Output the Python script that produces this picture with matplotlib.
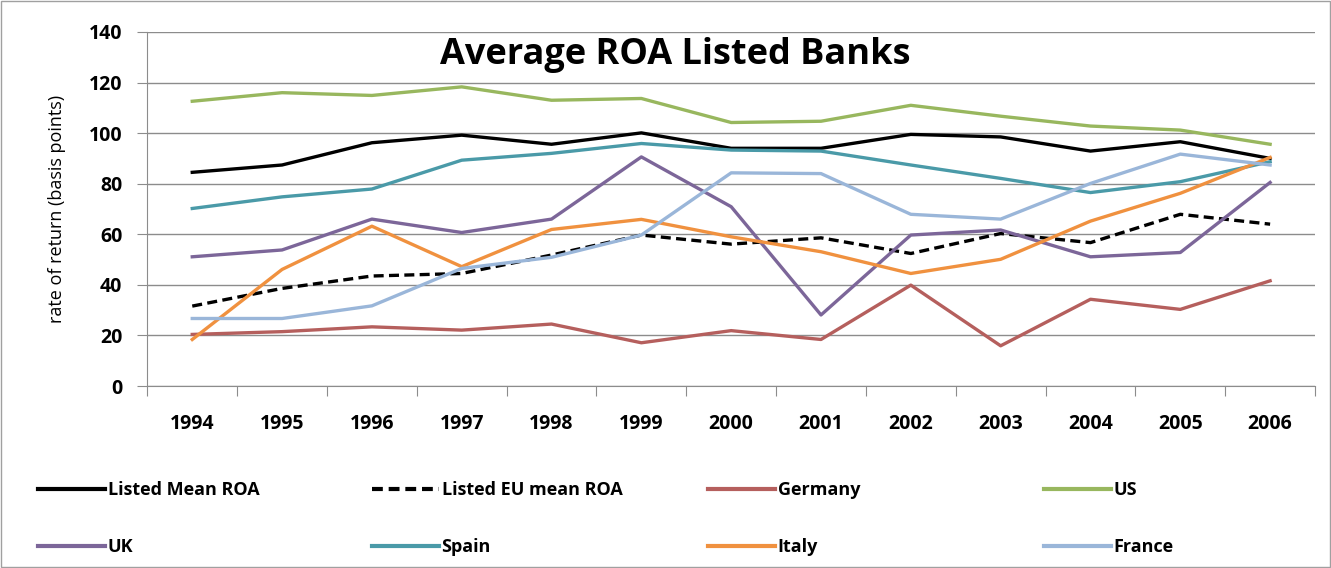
import matplotlib
matplotlib.use("Agg")
import matplotlib.pyplot as plt
from matplotlib.lines import Line2D
from matplotlib.patches import Rectangle

years = ["1994", "1995", "1996", "1997", "1998", "1999", "2000",
         "2001", "2002", "2003", "2004", "2005", "2006"]
listed_mean = [84.5, 87.4, 96.2, 99.2, 95.6, 100.1, 94.0, 94.0, 99.5, 98.5, 92.9, 96.6, 90.0]
listed_eu_mean = [31.6, 38.6, 43.5, 44.5, 51.8, 59.7, 56.1, 58.6, 52.4, 60.3, 56.7, 67.9, 64.0]
germany = [20.4, 21.5, 23.4, 22.1, 24.5, 17.1, 21.9, 18.4, 39.9, 15.9, 34.3, 30.3, 41.6]
us = [112.6, 116.0, 114.9, 118.3, 113.0, 113.7, 104.2, 104.7, 111.0, 106.7, 102.8, 101.2, 95.6]
uk = [51.1, 53.8, 66.0, 60.7, 66.0, 90.6, 70.9, 28.1, 59.7, 61.7, 51.1, 52.8, 80.5]
spain = [70.2, 74.8, 77.9, 89.3, 92.0, 95.9, 93.3, 92.9, 87.4, 82.1, 76.5, 80.8, 88.7]
italy = [18.4, 46.1, 63.2, 47.2, 61.9, 65.9, 59.0, 53.1, 44.5, 50.1, 65.2, 76.2, 90.4]
france = [26.7, 26.7, 31.7, 46.5, 50.9, 59.7, 84.3, 84.0, 67.9, 66.0, 80.1, 91.7, 87.4]
yticks = [0, 20, 40, 60, 80, 100, 120, 140]

series = [
    ("Listed Mean ROA", listed_mean, "#000000", True),
    ("Listed EU mean ROA", listed_eu_mean, "#000000", False),
    ("Germany", germany, "#B55F5D", True),
    ("US", us, "#98B75E", True),
    ("UK", uk, "#7C6699", True),
    ("Spain", spain, "#4A9AA8", True),
    ("Italy", italy, "#F0913F", True),
    ("France", france, "#9AB6D9", True),
]

plt.rcParams['font.family'] = ['Open Sans', 'DejaVu Sans']

fig = plt.figure(figsize=(13.31, 5.68), dpi=100)
ax = fig.add_axes([0.1107, 0.3204, 0.8773, 0.6233])

x = list(range(len(years)))
proxies = []
for name, vals, color, solid in series:
    ls = '-' if solid else (0, (3, 1.6))
    ax.plot(x, vals, color=color, linestyle=ls, linewidth=2.4, label=name)
    pls = '-' if solid else (0, (2.6, 1.4))
    proxies.append(Line2D([], [], color=color, linestyle=pls, linewidth=3.0, label=name))

ax.set_xlim(-0.5, len(years) - 0.5)
ax.set_ylim(0, 140)
ax.set_yticks(yticks)
ax.set_yticklabels([str(v) for v in yticks], fontsize=14, fontweight='bold')
ax.grid(axis='y', color='#8C8C8C', linewidth=1)
ax.set_axisbelow(True)

ax.set_xticks([i - 0.5 for i in range(len(years) + 1)])
ax.set_xticklabels([])
ax.set_xticks(x, minor=True)
ax.set_xticklabels(years, minor=True, fontsize=14, fontweight='bold')
ax.tick_params(axis='x', which='major', length=7, color='#8C8C8C', direction='out')
ax.tick_params(axis='x', which='minor', length=0, pad=20)
ax.tick_params(axis='y', length=7, color='#8C8C8C', pad=11)

for s in ['top', 'right']:
    ax.spines[s].set_visible(False)
for s in ['left', 'bottom']:
    ax.spines[s].set_color('#8C8C8C')

ax.set_ylabel("rate of return (basis points)", fontsize=13)
ax.yaxis.set_label_coords(-0.070, 0.5)

fig.text(0.507, 0.903, "Average ROA Listed Banks", fontsize=26, fontweight='bold',
         ha='center', va='center')

# legend entries, 2 rows x 4 columns
col_x = [38 / 1331, 372 / 1331, 708 / 1331, 1044 / 1331]
row_y = [1 - 490 / 568, 1 - 547 / 568]
for i, h in enumerate(proxies):
    r, c = divmod(i, 4)
    fig.legend(handles=[h], labels=[h.get_label()], loc='center left',
               bbox_to_anchor=(col_x[c], row_y[r]), frameon=False,
               handlelength=3.7, handletextpad=0.15, borderaxespad=0, borderpad=0,
               prop={'size': 13, 'weight': 'bold'})

fig.patches.append(Rectangle((0.001, 0.001), 0.998, 0.997, transform=fig.transFigure,
                             fill=False, edgecolor='#A0A0A0', linewidth=1))

fig.savefig("out.png", dpi=100, facecolor='white')
